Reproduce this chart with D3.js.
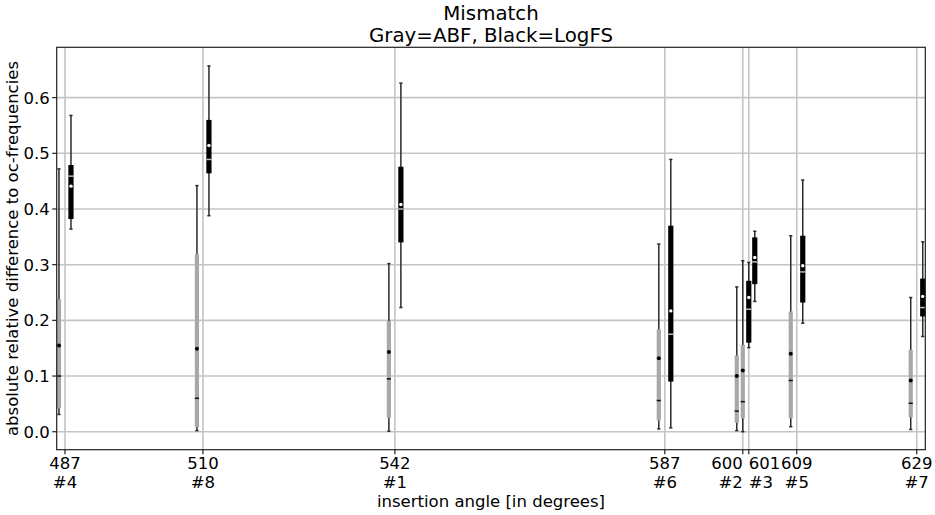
<!DOCTYPE html>
<html>
<head>
<meta charset="utf-8">
<script src="https://cdn.jsdelivr.net/npm/d3@7"></script>
<style>
  html, body { margin: 0; padding: 0; background: #fff; }
  svg { display: block; font-family: "DejaVu Sans", sans-serif; }
</style>
</head>
<body>
<svg id="chart" width="935" height="515"></svg>
<script>
// ---- data ----
const angles = [487, 510, 542, 587, 600, 601, 609, 629];
const angleIds = ["#4", "#8", "#1", "#6", "#2", "#3", "#5", "#7"];
const labelAnchor = ["middle", "middle", "middle", "middle", "end", "start", "middle", "middle"];
const yTicks = [0.0, 0.1, 0.2, 0.3, 0.4, 0.5, 0.6];

// ABF (gray)
const abfLow    = [0.031, 0.002, 0.001, 0.005, 0.002, 0.000, 0.009, 0.004];
const abfQ1     = [0.042, 0.008, 0.025, 0.020, 0.016, 0.024, 0.024, 0.026];
const abfMedian = [0.100, 0.060, 0.095, 0.056, 0.037, 0.054, 0.092, 0.051];
const abfMean   = [0.155, 0.149, 0.143, 0.132, 0.100, 0.110, 0.140, 0.092];
const abfQ3     = [0.238, 0.319, 0.199, 0.184, 0.137, 0.156, 0.216, 0.147];
const abfHigh   = [0.472, 0.442, 0.302, 0.337, 0.260, 0.307, 0.352, 0.241];

// LogFS (black)
const lfsLow    = [0.364, 0.388, 0.223, 0.007, 0.151, 0.234, 0.195, 0.171];
const lfsQ1     = [0.382, 0.464, 0.340, 0.090, 0.160, 0.265, 0.232, 0.207];
const lfsMedian = [0.459, 0.489, 0.400, 0.175, 0.220, 0.305, 0.287, 0.223];
const lfsMean   = [0.441, 0.514, 0.408, 0.217, 0.241, 0.313, 0.298, 0.243];
const lfsQ3     = [0.479, 0.560, 0.476, 0.370, 0.271, 0.349, 0.352, 0.275];
const lfsHigh   = [0.568, 0.657, 0.626, 0.489, 0.304, 0.360, 0.452, 0.341];

const titleLines = ["Mismatch", "Gray=ABF, Black=LogFS"];
const xLabel = "insertion angle [in degrees]";
const yLabel = "absolute relative difference to oc-frequencies";

// ---- layout ----
const svg = d3.select("#chart");
const L = 56.7, R = 925.3, T = 47.3, B = 449.7;
const x = d3.scaleLinear().domain([485.62, 630.43]).range([L, R]);
const y = d3.scaleLinear().domain([-0.0323, 0.6904]).range([B, T]);

const fs = 16.5;

// grid
const grid = svg.append("g");
grid.selectAll("line.gy").data(yTicks).join("line")
  .attr("x1", L).attr("x2", R)
  .attr("y1", d => y(d)).attr("y2", d => y(d))
  .attr("stroke", "#c4c4c4").attr("stroke-width", 1.6);
grid.selectAll("line.gx").data(angles).join("line")
  .attr("x1", d => x(d)).attr("x2", d => x(d))
  .attr("y1", T).attr("y2", B)
  .attr("stroke", "#c4c4c4").attr("stroke-width", 1.6);

// boxes
function series(low, q1, med, mean, q3, high, offset, style) {
  const data = angles.map((a, i) => ({
    a: a + offset, low: low[i], q1: q1[i], med: med[i], mean: mean[i], q3: q3[i], high: high[i]
  }));
  const g = svg.append("g");
  const grp = g.selectAll("g").data(data).join("g");
  // whisker line
  grp.append("line")
    .attr("x1", d => x(d.a)).attr("x2", d => x(d.a))
    .attr("y1", d => y(d.low)).attr("y2", d => y(d.high))
    .attr("stroke", style.whisker).attr("stroke-width", 1.5);
  // caps
  ["low", "high"].forEach(k => {
    grp.append("line")
      .attr("x1", d => x(d.a) - 1.6).attr("x2", d => x(d.a) + 1.6)
      .attr("y1", d => y(d[k])).attr("y2", d => y(d[k]))
      .attr("stroke", style.whisker).attr("stroke-width", 1.5);
  });
  // box
  grp.append("rect")
    .attr("x", d => x(d.a) - style.w / 2).attr("width", style.w)
    .attr("y", d => y(d.q3)).attr("height", d => y(d.q1) - y(d.q3))
    .attr("fill", style.fill);
  // median
  grp.append("line")
    .attr("x1", d => x(d.a) - style.w / 2).attr("x2", d => x(d.a) + style.w / 2)
    .attr("y1", d => y(d.med)).attr("y2", d => y(d.med))
    .attr("stroke", style.median).attr("stroke-width", 1.5);
  // mean
  grp.append("circle")
    .attr("cx", d => x(d.a)).attr("cy", d => y(d.mean))
    .attr("r", style.r).attr("fill", style.meanFill);
}
series(abfLow, abfQ1, abfMedian, abfMean, abfQ3, abfHigh, -1,
  { w: 4.2, fill: "#a8a8a8", whisker: "#2a2a2a", median: "#111", meanFill: "#000", r: 2 });
series(lfsLow, lfsQ1, lfsMedian, lfsMean, lfsQ3, lfsHigh, 1,
  { w: 5.2, fill: "#000", whisker: "#2a2a2a", median: "#bdbdbd", meanFill: "#fff", r: 1.7 });

// spines
svg.append("rect").attr("x", L).attr("y", T).attr("width", R - L).attr("height", B - T)
  .attr("fill", "none").attr("stroke", "#222").attr("stroke-width", 1.2);

// y ticks
const yt = svg.append("g");
yt.selectAll("line").data(yTicks).join("line")
  .attr("x1", L - 4.5).attr("x2", L).attr("y1", d => y(d)).attr("y2", d => y(d))
  .attr("stroke", "#222").attr("stroke-width", 1.2);
yt.selectAll("text").data(yTicks).join("text")
  .attr("x", L - 7).attr("y", d => y(d)).attr("dy", "0.36em")
  .attr("text-anchor", "end").attr("font-size", fs).attr("fill", "#000")
  .text(d => d3.format(".1f")(d));

// x ticks
const xt = svg.append("g");
xt.selectAll("line").data(angles).join("line")
  .attr("x1", d => x(d)).attr("x2", d => x(d)).attr("y1", B).attr("y2", B + 4.5)
  .attr("stroke", "#222").attr("stroke-width", 1.2);
const xtl = xt.selectAll("text").data(angles).join("text")
  .attr("x", d => x(d)).attr("y", B + 18.8)
  .attr("text-anchor", (d, i) => labelAnchor[i]).attr("font-size", fs).attr("fill", "#000");
xtl.append("tspan").attr("x", d => x(d)).text(d => String(d));
xtl.append("tspan").attr("x", d => x(d)).attr("dy", 19).text((d, i) => angleIds[i]);

// axis labels
svg.append("text").attr("x", (L + R) / 2).attr("y", 507)
  .attr("text-anchor", "middle").attr("font-size", fs).text(xLabel);
svg.append("text").attr("transform", `translate(18,${(T + B) / 2}) rotate(-90)`)
  .attr("text-anchor", "middle").attr("font-size", fs).text(yLabel);

// title
svg.append("text").attr("x", (L + R) / 2).attr("y", 20)
  .attr("text-anchor", "middle").attr("font-size", 19.8).text(titleLines[0]);
svg.append("text").attr("x", (L + R) / 2).attr("y", 42)
  .attr("text-anchor", "middle").attr("font-size", 19.8).text(titleLines[1]);
</script>
</body>
</html>
